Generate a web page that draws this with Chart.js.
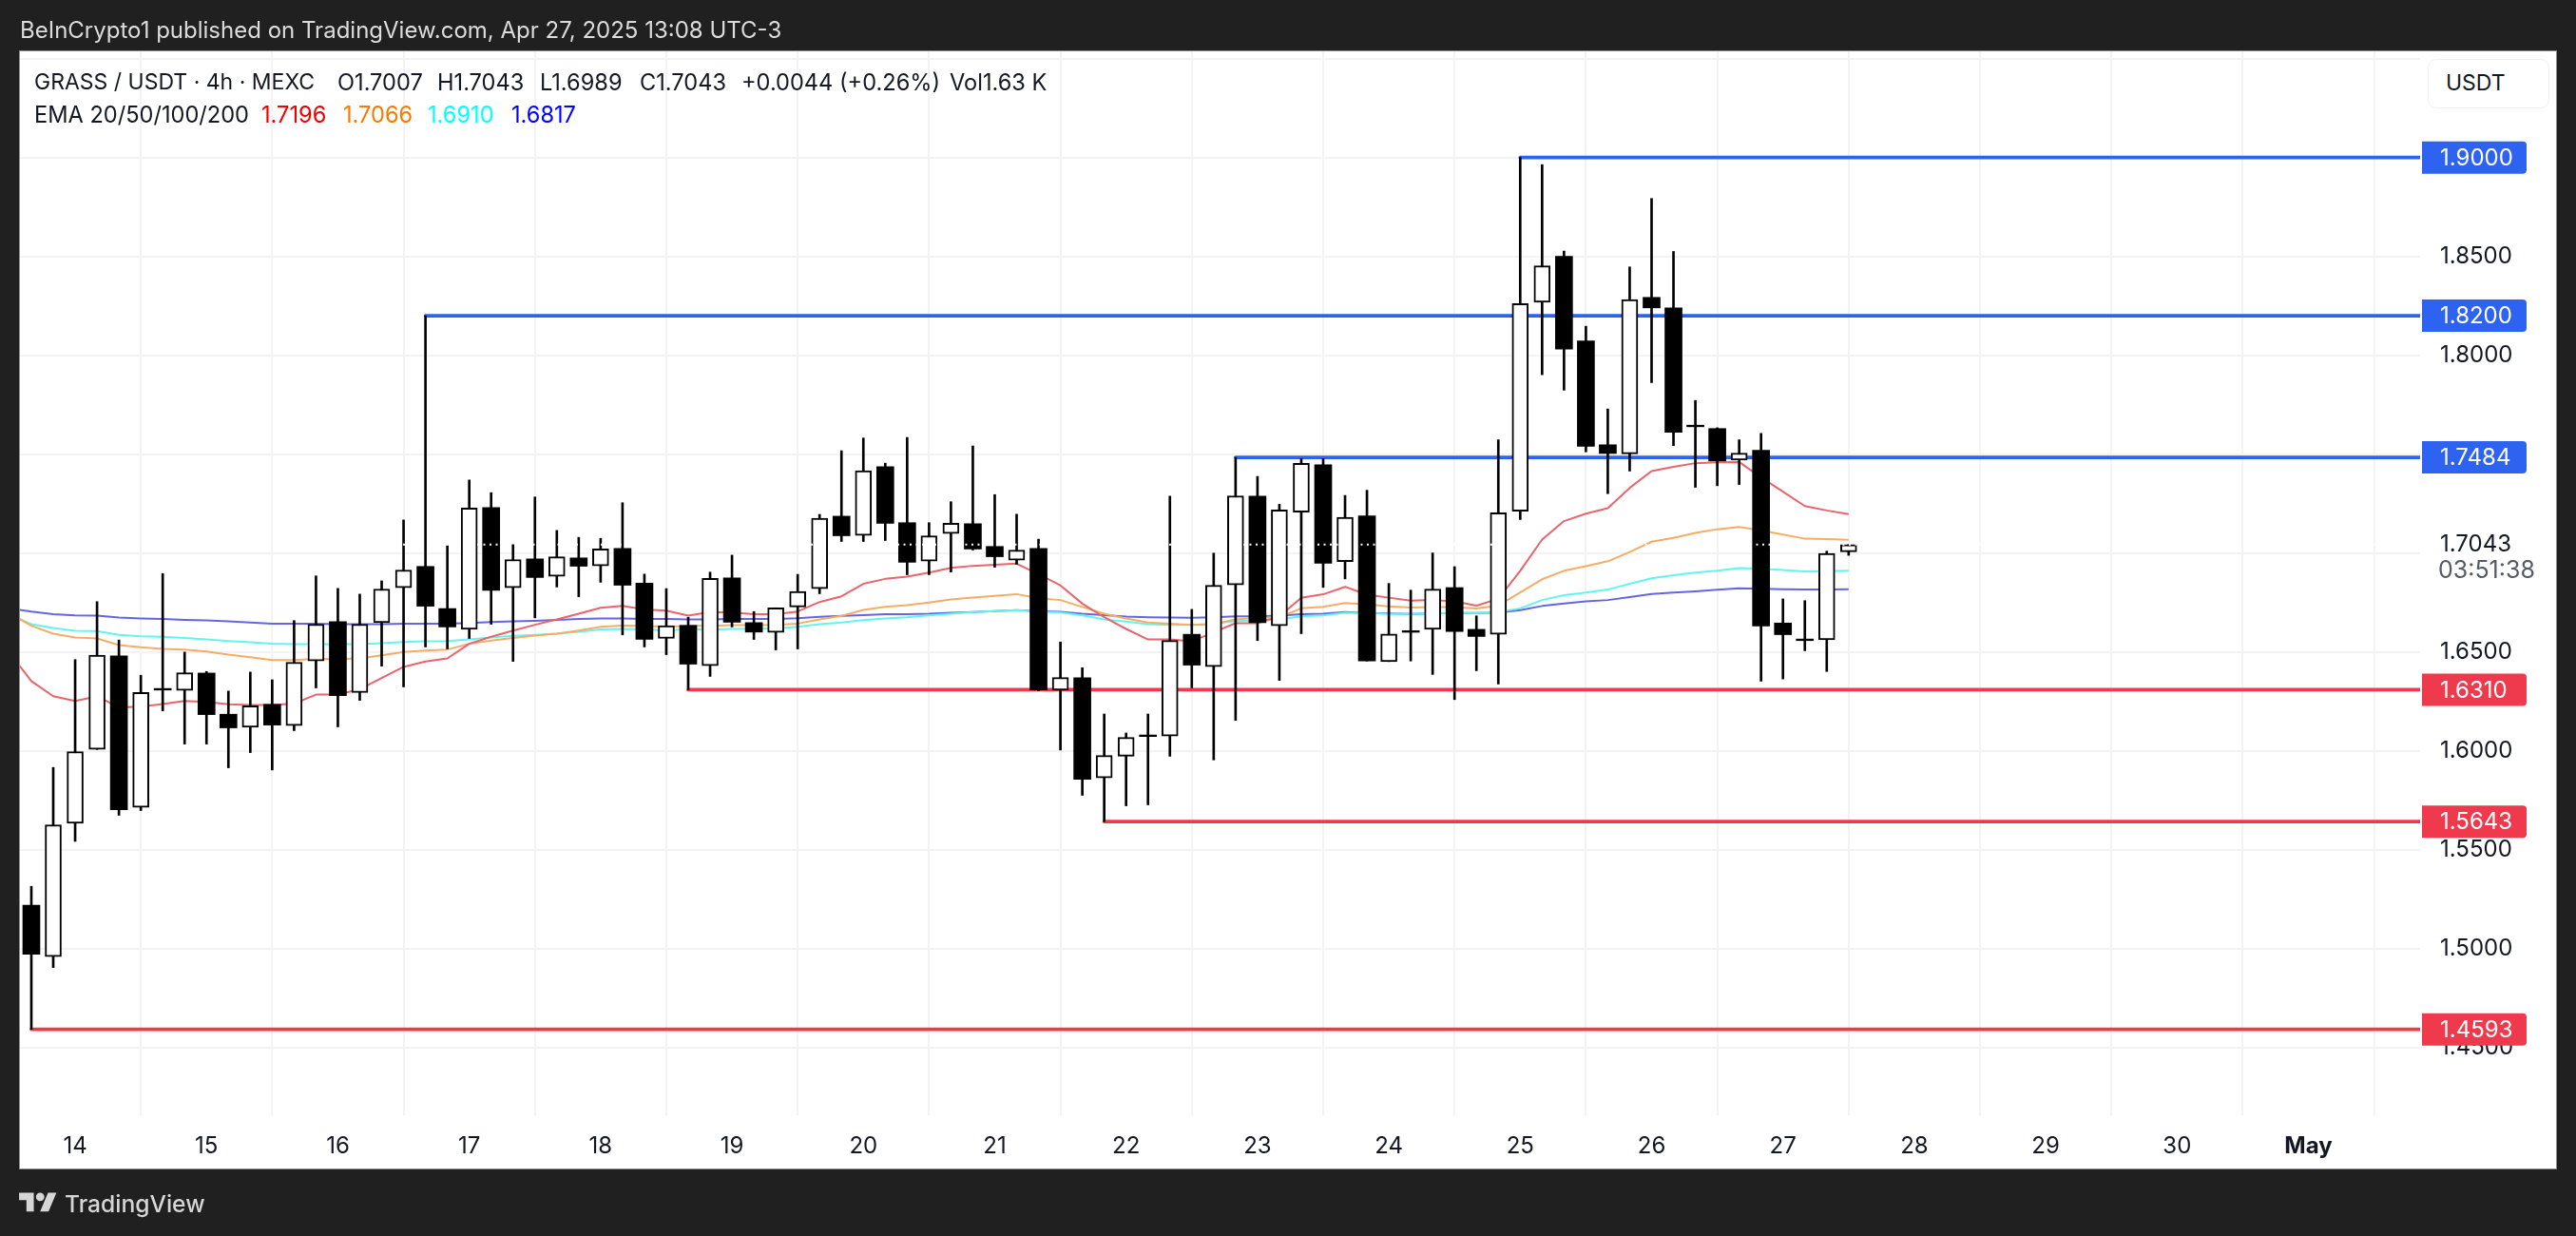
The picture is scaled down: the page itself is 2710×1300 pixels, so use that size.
<!DOCTYPE html>
<html>
<head>
<meta charset="utf-8">
<title>GRASS / USDT</title>
<script src="https://cdn.jsdelivr.net/npm/chart.js@4"></script>
<style>
html,body{margin:0;padding:0;width:2710px;height:1300px;overflow:hidden;background:#202020;}
body{font-family:Inter,"Noto Sans",sans-serif;position:relative;}
#panel{position:absolute;left:20px;top:53px;width:2668px;height:1175px;background:#fff;border:1px solid #8c8c8c;}
#chart{position:absolute;left:0;top:0;}
.t{position:absolute;white-space:pre;line-height:1;}
#pub{left:21px;top:20px;font-size:24px;color:#dcdcdc;}
.lg{font-size:23.6px;color:#131722;}
#usdt{position:absolute;left:2554px;top:62px;width:126px;height:50px;border:1px solid #f0f1f4;border-radius:9px;background:#fff;}
#usdtT{left:2573px;top:76px;font-size:23px;color:#131722;font-weight:400;}
#brand{left:68px;top:1254px;font-size:24.6px;color:#d6d6d6;font-weight:500;}
#logo{position:absolute;left:20px;top:1250px;}
</style>
</head>
<body>
<div id="panel"></div>
<canvas id="chart" width="2710" height="1300"></canvas>
<div id="usdt"></div>
<div class="t" id="usdtT">USDT</div>
<div class="t" id="pub">BeInCrypto1 published on TradingView.com, Apr 27, 2025 13:08 UTC-3</div>
<div class="t lg" style="left:36px;top:75px;font-size:23px">GRASS / USDT · 4h · MEXC</div>
<div class="t lg" style="left:355px;top:75px">O1.7007</div>
<div class="t lg" style="left:460px;top:75px">H1.7043</div>
<div class="t lg" style="left:568px;top:75px">L1.6989</div>
<div class="t lg" style="left:673px;top:75px">C1.7043</div>
<div class="t lg" style="left:780px;top:75px">+0.0044 (+0.26%)</div>
<div class="t lg" style="left:999px;top:75px">Vol1.63 K</div>
<div class="t lg" style="left:36px;top:109px">EMA 20/50/100/200</div>
<div class="t lg" style="left:275px;top:109px;color:#f00000">1.7196</div>
<div class="t lg" style="left:361px;top:109px;color:#f57c00">1.7066</div>
<div class="t lg" style="left:450px;top:109px;color:#00ffff">1.6910</div>
<div class="t lg" style="left:538px;top:109px;color:#0000ff">1.6817</div>
<svg id="logo" width="40" height="31" viewBox="0 0 36 28"><path fill="#d6d6d6" d="M14 22H7V11H0V4h14v18zM28 22h-8l7.5-18h8L28 22z"/><circle fill="#d6d6d6" cx="20" cy="8" r="4"/></svg>
<div class="t" id="brand">TradingView</div>
<script>
// 4h candles, first one two slots left of the "14" day line
const firstSlot = -2;
const opens = [1.5220,1.4960,1.5635,1.6008,1.6481,1.5715,1.6316,1.6306,1.6394,1.6186,1.6120,1.6236,1.6128,1.6455,1.6654,1.6295,1.6649,1.6825,1.6933,1.6720,1.6615,1.7231,1.6825,1.6971,1.6883,1.6976,1.6936,1.7024,1.6849,1.6569,1.6635,1.6431,1.6875,1.6649,1.6599,1.6728,1.6820,1.7187,1.7090,1.7437,1.7154,1.6960,1.7099,1.7149,1.7034,1.6965,1.7024,1.6308,1.6370,1.5864,1.5974,1.6081,1.6075,1.6590,1.6426,1.6840,1.7288,1.6633,1.7207,1.7447,1.6957,1.7189,1.6452,1.6608,1.6615,1.6826,1.6615,1.6590,1.7212,1.8268,1.8500,1.8073,1.7548,1.7502,1.8293,1.8240,1.7647,1.7630,1.7470,1.7520,1.6647,1.6566,1.6562,1.7007];
const closes = [1.4973,1.5627,1.5997,1.6484,1.5703,1.6296,1.6308,1.6396,1.6184,1.6117,1.6228,1.6131,1.6449,1.6641,1.6280,1.6641,1.6819,1.6915,1.6732,1.6627,1.7228,1.6812,1.6968,1.6877,1.6982,1.6934,1.7022,1.6838,1.6564,1.6633,1.6439,1.6872,1.6651,1.6601,1.6724,1.6806,1.7176,1.7088,1.7417,1.7151,1.6954,1.7088,1.7151,1.7021,1.6982,1.7016,1.6309,1.6372,1.5857,1.5978,1.6069,1.6073,1.6559,1.6434,1.6838,1.7290,1.6649,1.7218,1.7454,1.6949,1.7181,1.6455,1.6592,1.6600,1.6818,1.6604,1.6579,1.7204,1.8261,1.8453,1.8031,1.7540,1.7504,1.8282,1.8240,1.7611,1.7639,1.7466,1.7506,1.6632,1.6588,1.6558,1.6999,1.7043];
const highs = [1.5316,1.5917,1.6462,1.6755,1.6561,1.6383,1.6897,1.6500,1.6402,1.6303,1.6399,1.6360,1.6659,1.6885,1.6822,1.6793,1.6860,1.7168,1.8200,1.7038,1.7370,1.7306,1.7043,1.7284,1.7115,1.7080,1.7075,1.7255,1.6894,1.6821,1.6676,1.6904,1.6990,1.6705,1.6724,1.6893,1.7196,1.7518,1.7582,1.7455,1.7585,1.7154,1.7260,1.7542,1.7296,1.7197,1.7071,1.6551,1.6421,1.6187,1.6091,1.6187,1.7288,1.6716,1.7000,1.7484,1.7388,1.7247,1.7478,1.7478,1.7292,1.7318,1.6847,1.6813,1.7001,1.6932,1.6683,1.7573,1.9000,1.8964,1.8527,1.8147,1.7729,1.8447,1.8793,1.8525,1.7772,1.7634,1.7573,1.7605,1.6769,1.6760,1.7010,1.7043];
const lows = [1.4593,1.4905,1.5543,1.6008,1.5675,1.5699,1.6203,1.6035,1.6035,1.5915,1.5992,1.5904,1.6103,1.6319,1.6122,1.6256,1.6429,1.6324,1.6526,1.6516,1.6569,1.6641,1.6453,1.6673,1.6829,1.6780,1.6853,1.6587,1.6526,1.6487,1.6310,1.6377,1.6627,1.6564,1.6511,1.6516,1.6795,1.7059,1.7059,1.7064,1.6891,1.6891,1.6905,1.7016,1.6929,1.6944,1.6304,1.6005,1.5776,1.5643,1.5723,1.5728,1.5973,1.6319,1.5955,1.6155,1.6558,1.6357,1.6593,1.6827,1.6870,1.6455,1.6452,1.6455,1.6387,1.6260,1.6406,1.6339,1.7170,1.7902,1.7824,1.7512,1.7301,1.7415,1.7862,1.7544,1.7333,1.7341,1.7347,1.6353,1.6364,1.6507,1.6402,1.6989];

// EMA lines start one slot earlier, off the left edge of the pane
const emaFirstSlot = -3;
const ema20 = [1.6497,1.6353,1.6277,1.6253,1.6276,1.6221,1.6224,1.6237,1.6253,1.6248,1.6236,1.6232,1.6232,1.6240,1.6285,1.6285,1.6312,1.6369,1.6425,1.6452,1.6468,1.6542,1.6577,1.6609,1.6638,1.6665,1.6694,1.6724,1.6734,1.6716,1.6710,1.6684,1.6702,1.6700,1.6691,1.6691,1.6705,1.6753,1.6782,1.6845,1.6870,1.6881,1.6902,1.6926,1.6936,1.6941,1.6947,1.6894,1.6837,1.6745,1.6676,1.6617,1.6564,1.6564,1.6554,1.6601,1.6646,1.6646,1.6681,1.6774,1.6792,1.6830,1.6790,1.6775,1.6760,1.6763,1.6756,1.6735,1.6769,1.6911,1.7069,1.7162,1.7200,1.7227,1.7330,1.7415,1.7436,1.7455,1.7459,1.7461,1.7383,1.7311,1.7238,1.7216,1.7197];
const ema50 = [1.6697,1.6633,1.6593,1.6574,1.6569,1.6535,1.6524,1.6516,1.6513,1.6503,1.6487,1.6474,1.6460,1.6460,1.6466,1.6464,1.6468,1.6484,1.6500,1.6508,1.6513,1.6542,1.6558,1.6571,1.6583,1.6593,1.6609,1.6628,1.6634,1.6633,1.6628,1.6633,1.6633,1.6636,1.6636,1.6638,1.6644,1.6665,1.6683,1.6713,1.6729,1.6737,1.6750,1.6766,1.6776,1.6784,1.6793,1.6772,1.6763,1.6728,1.6694,1.6670,1.6649,1.6644,1.6638,1.6641,1.6665,1.6673,1.6676,1.6721,1.6729,1.6748,1.6741,1.6731,1.6725,1.6727,1.6727,1.6720,1.6735,1.6801,1.6868,1.6911,1.6934,1.6959,1.7006,1.7058,1.7077,1.7102,1.7121,1.7132,1.7115,1.7094,1.7073,1.7071,1.7067];
const ema100 = [1.6689,1.6641,1.6622,1.6607,1.6606,1.6587,1.6580,1.6577,1.6571,1.6564,1.6556,1.6550,1.6542,1.6540,1.6540,1.6540,1.6540,1.6545,1.6551,1.6555,1.6556,1.6564,1.6574,1.6582,1.6587,1.6593,1.6603,1.6615,1.6617,1.6615,1.6609,1.6617,1.6614,1.6617,1.6617,1.6620,1.6628,1.6641,1.6649,1.6662,1.6670,1.6676,1.6686,1.6694,1.6702,1.6707,1.6712,1.6705,1.6700,1.6686,1.6665,1.6654,1.6641,1.6638,1.6638,1.6644,1.6657,1.6660,1.6665,1.6681,1.6686,1.6699,1.6697,1.6693,1.6693,1.6695,1.6697,1.6697,1.6702,1.6721,1.6763,1.6788,1.6801,1.6816,1.6845,1.6873,1.6889,1.6902,1.6911,1.6925,1.6921,1.6915,1.6908,1.6909,1.6911];
const ema200 = [1.6721,1.6705,1.6692,1.6686,1.6684,1.6675,1.6670,1.6667,1.6663,1.6660,1.6655,1.6649,1.6644,1.6643,1.6643,1.6641,1.6641,1.6641,1.6643,1.6644,1.6644,1.6647,1.6652,1.6655,1.6658,1.6663,1.6667,1.6670,1.6670,1.6668,1.6667,1.6665,1.6665,1.6667,1.6667,1.6668,1.6671,1.6678,1.6683,1.6687,1.6691,1.6692,1.6694,1.6699,1.6702,1.6707,1.6712,1.6707,1.6704,1.6694,1.6687,1.6679,1.6676,1.6675,1.6673,1.6676,1.6681,1.6681,1.6684,1.6691,1.6694,1.6702,1.6697,1.6695,1.6693,1.6695,1.6697,1.6697,1.6700,1.6712,1.6733,1.6746,1.6756,1.6763,1.6778,1.6794,1.6801,1.6807,1.6815,1.6822,1.6820,1.6818,1.6816,1.6816,1.6818];

// horizontal levels drawn on the chart: price, slot where they begin
const levelPrices = [1.9000,1.8200,1.7484,1.6310,1.5643,1.4593];
const levelStarts = [66,16,53,28,47,-2];
const levelLabels = ['1.9000','1.8200','1.7484','1.6310','1.5643','1.4593'];
const levelColors = ['#2e62f0','#2e62f0','#2e62f0','#ee3a4c','#ee3a4c','#ee3a4c'];

const lastPrice = 1.7043;
const countdown = '03:51:38';
const dayLabels = ['14','15','16','17','18','19','20','21','22','23','24','25','26','27','28','29','30','May'];
const daySlots = [0,6,12,18,24,30,36,42,48,54,60,66,72,78,84,90,96,102];
const priceTicks = [1.45,1.5,1.55,1.6,1.65,1.7,1.7043,1.75,1.8,1.85,1.9,1.95];
const priceLabels = ['1.4500','1.5000','1.5500','1.6000','1.6500','','1.7043','','1.8000','1.8500','',''];

const slotMin = -2.52, slotMax = 107.1;
const priceMin = 1.41588, priceMax = 1.95366;

const candleSlot = i => firstSlot + i;
const upBodies = [], downBodies = [], wicks = [];
opens.forEach((o, i) => {
  const c = closes[i];
  (c > o ? upBodies : downBodies).push({x: candleSlot(i), y: [o, c]});
  wicks.push({x: candleSlot(i), y: [lows[i], highs[i]]});
});
const emaPoints = arr => arr.map((y, i) => ({x: emaFirstSlot + i, y}));
const lineBase = {type:'line', pointRadius:0, pointHoverRadius:0, tension:0, fill:false, borderJoinStyle:'round'};

const datasets = [
  {...lineBase, label:'Last price', data:[{x:slotMin,y:lastPrice},{x:slotMax,y:lastPrice}], borderColor:'#ffffff', borderWidth:2, borderDash:[2,4.5], order:-1},
  {type:'bar', label:'Up', data:upBodies, backgroundColor:'#ffffff', borderColor:'#000000', borderWidth:2, borderSkipped:false, barThickness:17, grouped:false, order:0},
  {type:'bar', label:'Down', data:downBodies, backgroundColor:'#000000', borderColor:'#000000', borderWidth:0, barThickness:18, grouped:false, order:0},
  {type:'bar', label:'Wick', data:wicks, backgroundColor:'#000000', borderWidth:0, barThickness:2, grouped:false, order:1},
  {...lineBase, label:'EMA 20', data:emaPoints(ema20), borderColor:'#ea646c', borderWidth:2, order:2},
  {...lineBase, label:'EMA 50', data:emaPoints(ema50), borderColor:'#f5ad66', borderWidth:2, order:3},
  {...lineBase, label:'EMA 100', data:emaPoints(ema100), borderColor:'#62f5f0', borderWidth:2, order:4},
  {...lineBase, label:'EMA 200', data:emaPoints(ema200), borderColor:'#6565e2', borderWidth:2, order:5},
];
levelPrices.forEach((p, i) => {
  datasets.push({...lineBase, label:'Level '+levelLabels[i], data:[{x:levelStarts[i],y:p},{x:slotMax,y:p}], borderColor:levelColors[i], borderWidth:3.6, borderCapStyle:'round', order:6});
});

const tagsPlugin = {
  id:'tags',
  afterDraw(chart){
    const {ctx, scales:{y}} = chart;
    const left = chart.chartArea.right + 2, w = 110, h = 34;
    ctx.save();
    ctx.textBaseline = 'middle';
    ctx.textAlign = 'left';
    ctx.font = '25px Inter';
    ctx.fillStyle = '#555a63';
    ctx.fillText(countdown, left + 17, y.getPixelForValue(lastPrice) + 28);
    ctx.font = '24px Inter';
    levelPrices.forEach((p, i) => {
      const cy = y.getPixelForValue(p);
      ctx.fillStyle = levelColors[i];
      ctx.beginPath();
      ctx.roundRect(left, cy - h/2, w, h, [0,4,4,0]);
      ctx.fill();
      ctx.fillStyle = '#ffffff';
      ctx.fillText(levelLabels[i], left + 19, cy + 1);
    });
    ctx.restore();
  }
};

new Chart(document.getElementById('chart'), {
  type:'bar',
  data:{datasets},
  plugins:[tagsPlugin],
  options:{
    responsive:false, animation:false, devicePixelRatio:1,
    layout:{padding:{left:21, top:54, right:21, bottom:70}},
    plugins:{legend:{display:false}, title:{display:false}, tooltip:{enabled:false}},
    events:[],
    scales:{
      x:{
        type:'linear', min:slotMin, max:slotMax, offset:false,
        afterBuildTicks(s){ s.ticks = daySlots.map(v => ({value:v})); },
        afterFit(s){ s.height = 57; },
        grid:{color:'#f3f3f5', lineWidth:2, drawTicks:false},
        border:{display:false},
        ticks:{
          autoSkip:false, maxRotation:0, padding:18, color:'#131722',
          font:c => ({family:'Inter', size:24, weight: c.index === dayLabels.length-1 ? '700' : '400'}),
          callback:(v) => dayLabels[daySlots.indexOf(v)]
        }
      },
      y:{
        type:'linear', position:'right', min:priceMin, max:priceMax,
        afterBuildTicks(s){ s.ticks = priceTicks.map(v => ({value:v})); },
        afterFit(s){ s.width = 143; },
        grid:{color:c => c.tick && c.tick.value === lastPrice ? 'rgba(0,0,0,0)' : '#f3f3f5', lineWidth:2, drawTicks:false},
        border:{display:false},
        ticks:{
          autoSkip:false, padding:21, crossAlign:'near', color:'#131722',
          font:{family:'Inter', size:24},
          callback:(v) => priceLabels[priceTicks.indexOf(v)]
        }
      }
    }
  }
});
</script>
</body>
</html>
